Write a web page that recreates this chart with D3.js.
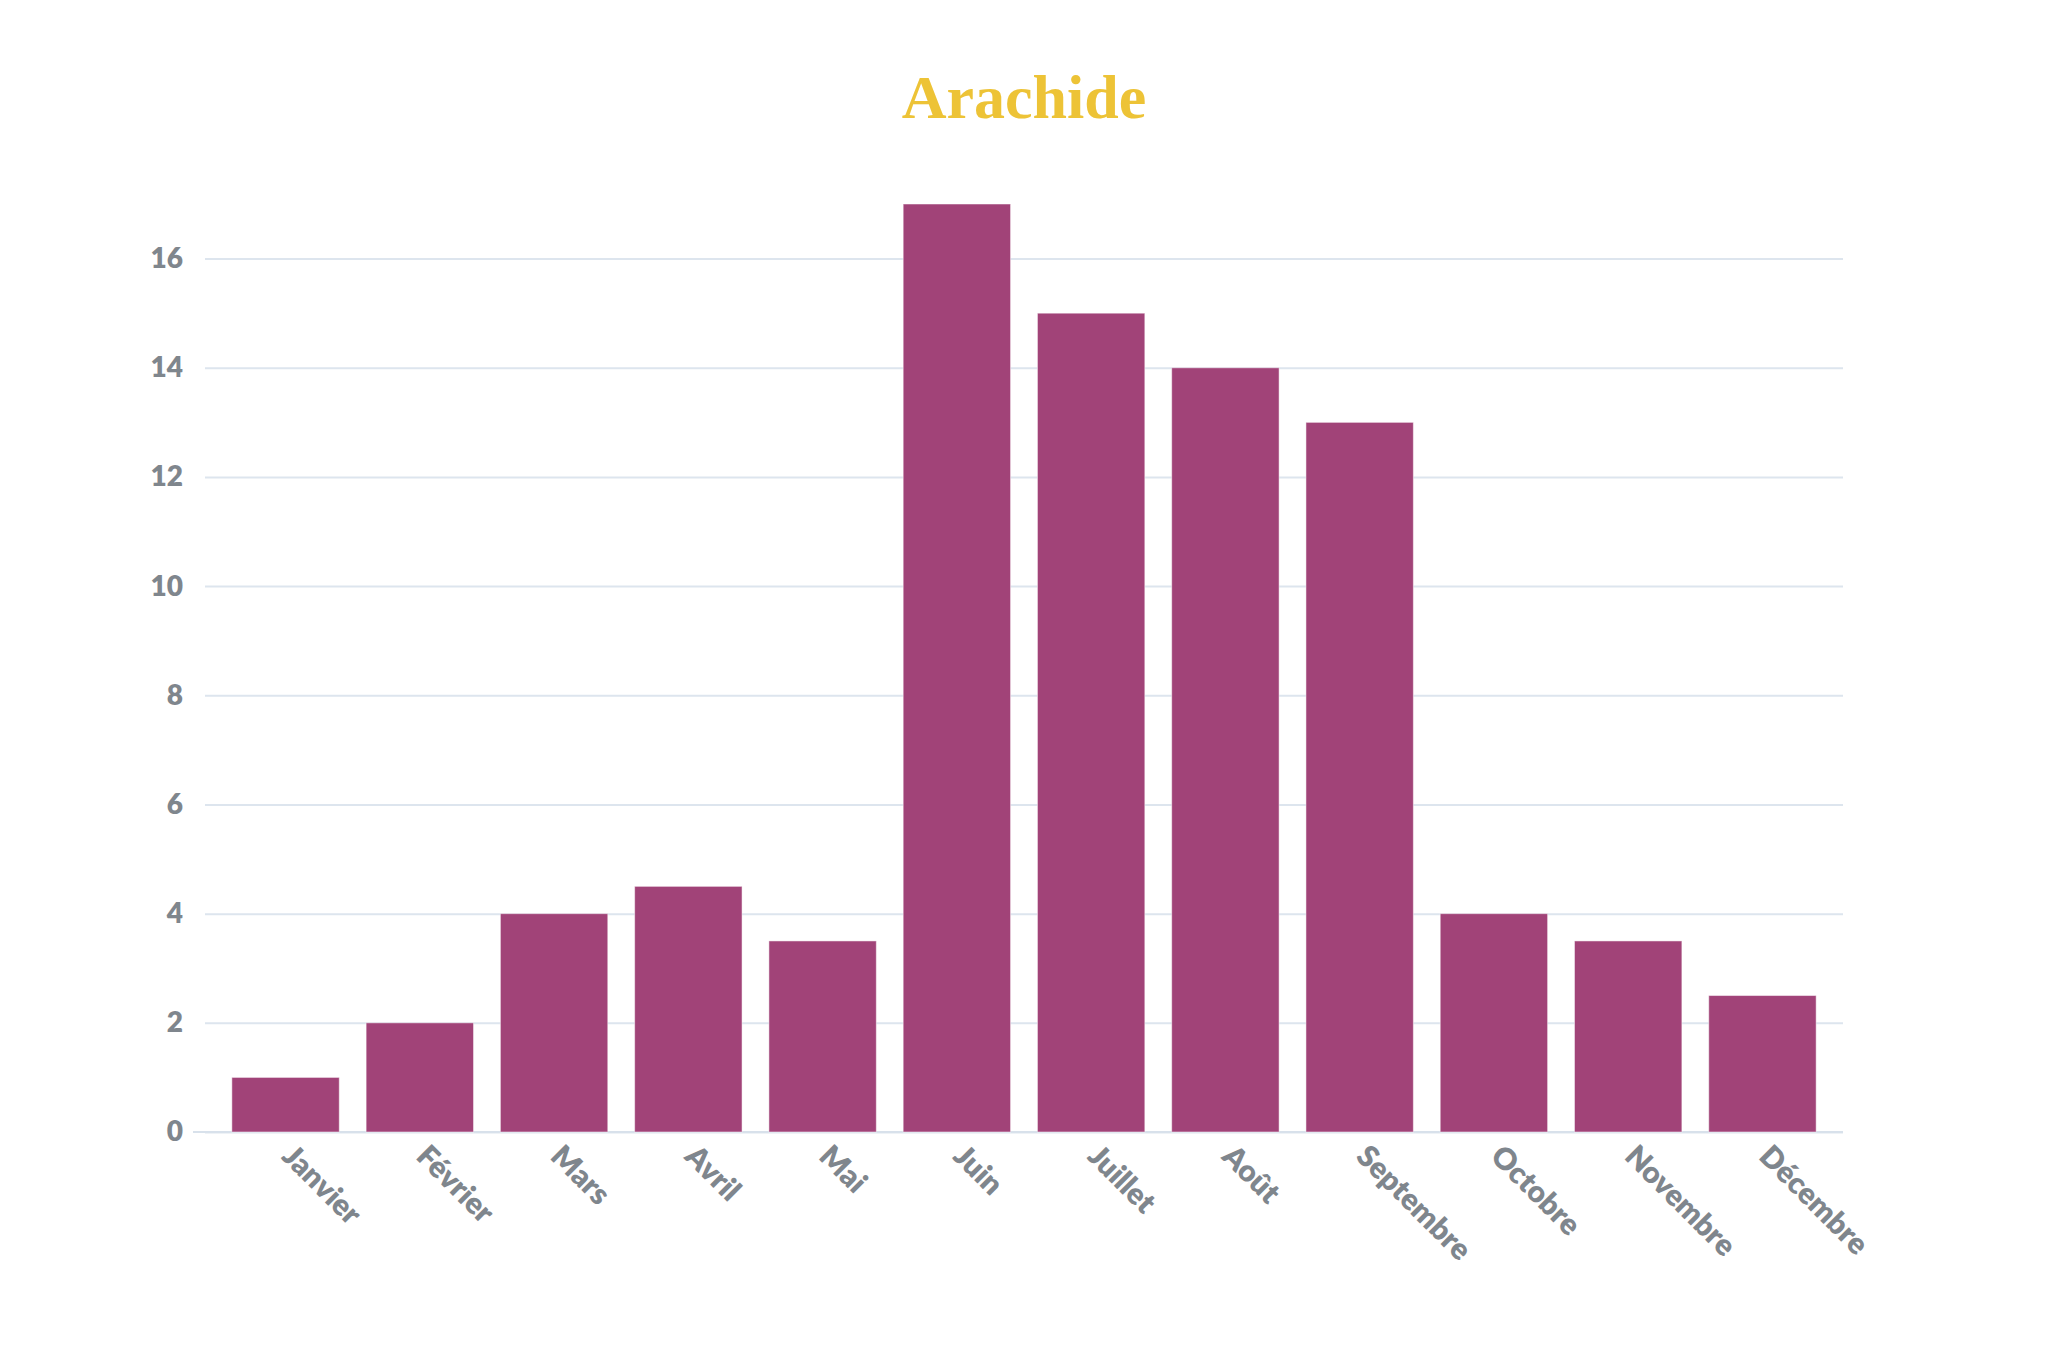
<!DOCTYPE html>
<html>
<head>
<meta charset="utf-8">
<style>
  body { margin: 0; background: #fff; }
  svg { display: block; }
</style>
</head>
<body>
<svg width="2048" height="1364"></svg>
<script src="https://cdn.jsdelivr.net/npm/d3@7"></script>
<script>

var title = "Arachide";
var months = ["Janvier", "Février", "Mars", "Avril", "Mai", "Juin",
              "Juillet", "Août", "Septembre", "Octobre", "Novembre", "Décembre"];
var values = [1, 2, 4, 4.5, 3.5, 17, 15, 14, 13, 4, 3.5, 2.5];
var yTicks = [0, 2, 4, 6, 8, 10, 12, 14, 16];

var svg = d3.select("svg"),
    margin = {top: 204, right: 205, bottom: 232, left: 205},
    width = +svg.attr("width") - margin.left - margin.right,
    height = +svg.attr("height") - margin.top - margin.bottom,
    g = svg.append("g").attr("transform", "translate(" + margin.left + "," + margin.top + ")");

var x = d3.scaleBand()
    .domain(months)
    .range([0, width])
    .paddingInner(0.2)
    .paddingOuter(0.2);

var y = d3.scaleLinear()
    .domain([0, 17])
    .range([height, 0]);

var labelFont = "Lato, 'Open Sans', sans-serif";

// title
svg.append("text")
    .attr("x", 1024)
    .attr("y", 118)
    .attr("text-anchor", "middle")
    .attr("fill", "#edc336")
    .style("font-family", "'Liberation Serif', 'Times New Roman', serif")
    .style("font-weight", "bold")
    .style("font-size", "62px")
    .text(title);

// grid + y labels
var yAxis = g.append("g")
    .call(d3.axisLeft(y).tickValues(yTicks).tickSize(-width).tickPadding(22));
yAxis.select(".domain").remove();
yAxis.selectAll(".tick line")
    .attr("stroke", "#dde5ee")
    .attr("stroke-width", 2);
yAxis.selectAll(".tick text")
    .attr("fill", "#7f868d")
    .style("font-family", labelFont)
    .style("font-weight", 800)
    .style("font-size", "28px");

// x axis line, a bit longer than the grid on the left
g.append("line")
    .attr("x1", -12)
    .attr("x2", width)
    .attr("y1", y(0))
    .attr("y2", y(0))
    .attr("stroke", "#d8e1eb")
    .attr("stroke-width", 2);

// bars
g.selectAll(".bar")
    .data(values)
  .enter().append("rect")
    .attr("class", "bar")
    .attr("x", function(d, i) { return x(months[i]); })
    .attr("y", function(d) { return y(d); })
    .attr("width", x.bandwidth())
    .attr("height", function(d) { return height - y(d); })
    .attr("fill", "#a14378")
    .attr("stroke", "#ffffff")
    .attr("stroke-opacity", 0.5)
    .attr("stroke-width", 1);

// x labels
var xAxis = g.append("g")
    .attr("transform", "translate(0," + height + ")")
    .call(d3.axisBottom(x).tickSize(0).tickPadding(0));
xAxis.select(".domain").remove();
xAxis.selectAll(".tick text")
    .attr("fill", "#7f868d")
    .attr("text-anchor", "start")
    .attr("dy", null)
    .attr("y", 0)
    .attr("transform", "translate(-5,26) rotate(45)")
    .style("font-family", labelFont)
    .style("font-weight", 800)
    .style("font-size", "30px");

</script>
</body>
</html>
